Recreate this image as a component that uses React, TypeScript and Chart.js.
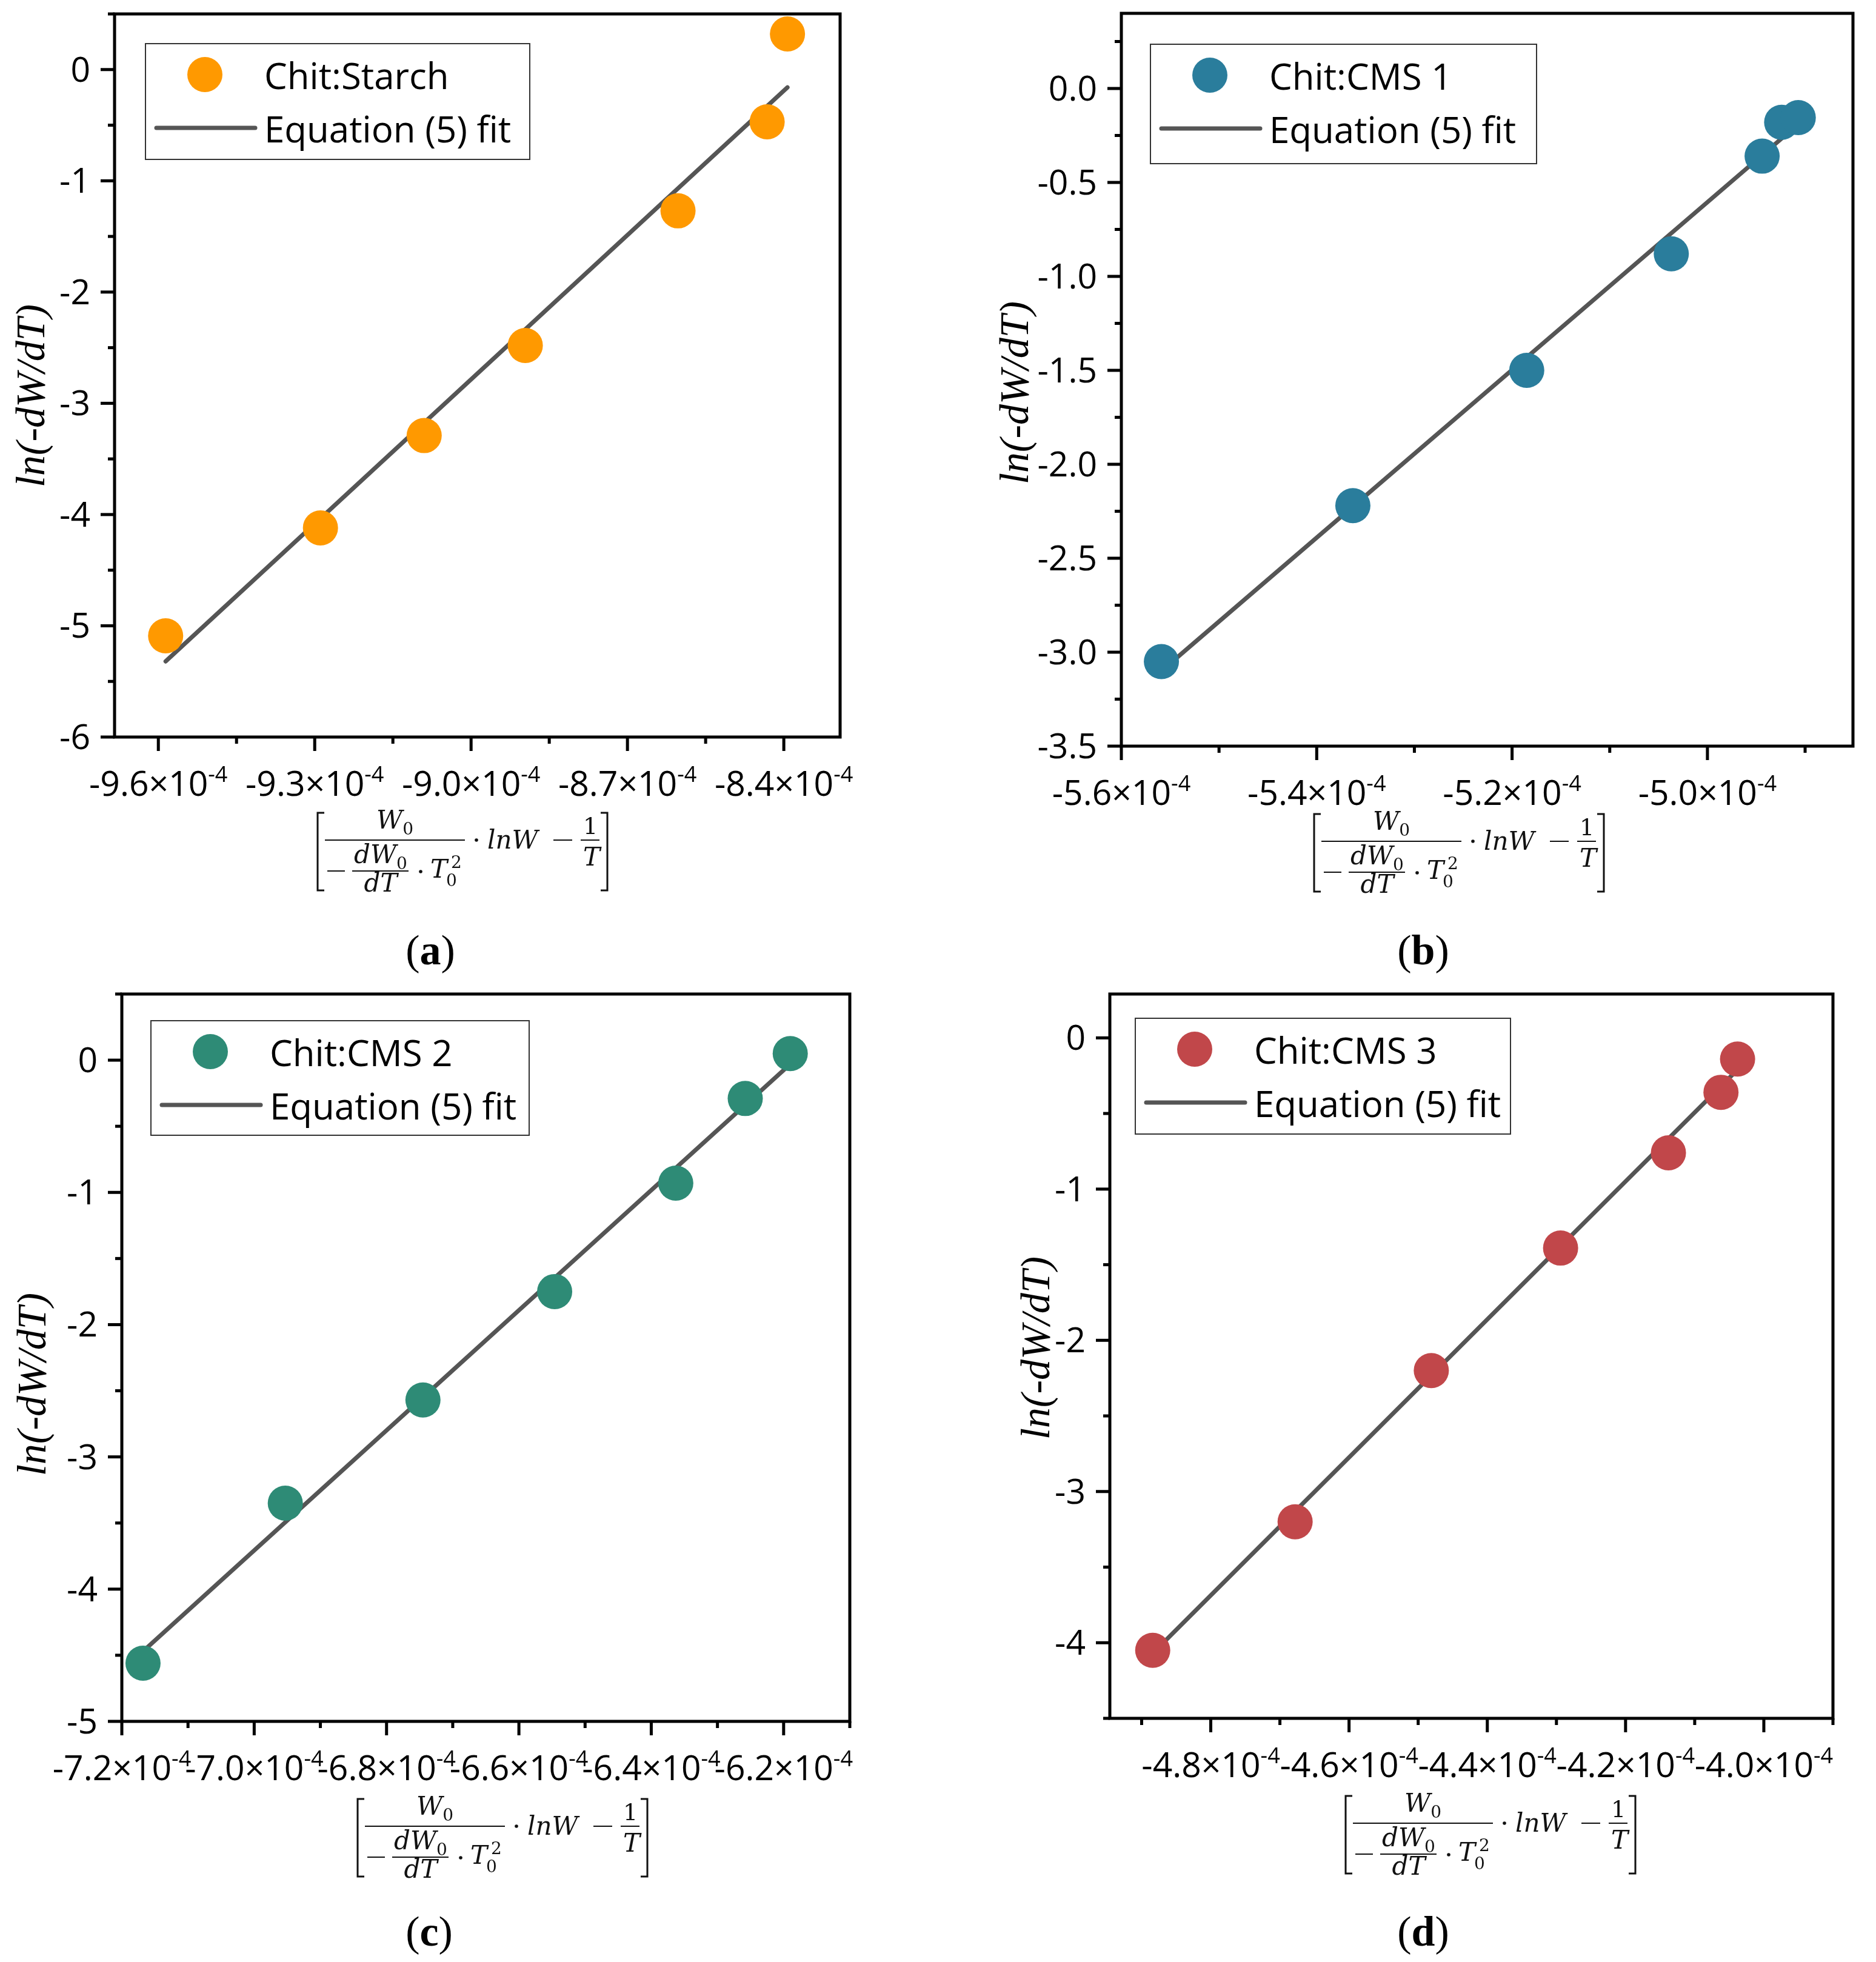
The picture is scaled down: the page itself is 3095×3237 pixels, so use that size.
import React, { useEffect, useRef } from 'react';
import { Chart, registerables } from 'chart.js';

Chart.register(...registerables);

// series (x in units of 1, shown as ×10^-4 on the axis)
const seriesNames = ['Chit:Starch', 'Chit:CMS 1', 'Chit:CMS 2', 'Chit:CMS 3'];
const fitName = 'Equation (5) fit';
const panelLetters = ['a', 'b', 'c', 'd'];

const starchX = [-9.586e-4, -9.289e-4, -9.09e-4, -8.896e-4, -8.603e-4, -8.432e-4, -8.393e-4];
const starchY = [-5.09, -4.12, -3.29, -2.48, -1.27, -0.47, 0.32];
const starchFitX = [-9.586e-4, -8.393e-4];
const starchFitY = [-5.32, -0.16];

const cms1X = [-5.559e-4, -5.363e-4, -5.185e-4, -5.037e-4, -4.944e-4, -4.924e-4, -4.907e-4];
const cms1Y = [-3.05, -2.22, -1.5, -0.88, -0.36, -0.18, -0.155];
const cms1FitX = [-5.559e-4, -4.907e-4];
const cms1FitY = [-3.1, -0.19];

const cms2X = [-7.168e-4, -6.953e-4, -6.745e-4, -6.546e-4, -6.363e-4, -6.258e-4, -6.19e-4];
const cms2Y = [-4.56, -3.35, -2.57, -1.75, -0.93, -0.29, 0.05];
const cms2FitX = [-7.168e-4, -6.19e-4];
const cms2FitY = [-4.47, -0.03];

const cms3X = [-4.884e-4, -4.678e-4, -4.481e-4, -4.294e-4, -4.138e-4, -4.062e-4, -4.038e-4];
const cms3Y = [-4.05, -3.2, -2.2, -1.39, -0.76, -0.36, -0.14];
const cms3FitX = [-4.884e-4, -4.038e-4];
const cms3FitY = [-4.07, -0.21];

// tick values
const aXTicks = [-9.6e-4, -9.3e-4, -9.0e-4, -8.7e-4, -8.4e-4];
const aYTicks = [0, -1, -2, -3, -4, -5, -6];
const bXTicks = [-5.6e-4, -5.4e-4, -5.2e-4, -5.0e-4];
const bYTicks = [0, -0.5, -1, -1.5, -2, -2.5, -3, -3.5];
const cXTicks = [-7.2e-4, -7.0e-4, -6.8e-4, -6.6e-4, -6.4e-4, -6.2e-4];
const cYTicks = [0, -1, -2, -3, -4, -5];
const dXTicks = [-4.8e-4, -4.6e-4, -4.4e-4, -4.2e-4, -4.0e-4];
const dYTicks = [0, -1, -2, -3, -4];

const TICK_FONT = '57px "Open Sans"';
const EXP_FONT = '36px "Open Sans"';
const LEGEND_FONT = '60px "Open Sans"';
const TITLE_FONT = 'italic 68px "Liberation Serif"';
const MATH_IT = 'italic 42px "DejaVu Serif"';
const MATH_SUB = '28px "DejaVu Serif"';
const MATH_NUM = '38px "DejaVu Serif"';
const FIT_COLOR = '#555555';

interface Box { x: number; y: number; w: number; h: number }

interface PanelSpec {
  name: string;
  letter: string;
  color: string;
  xs: number[];
  ys: number[];
  fitXs: number[];
  fitYs: number[];
  xMin: number;
  xMax: number;
  yMin: number;
  yMax: number;
  xTicks: number[];
  yTicks: number[];
  xMinor: number;
  yMinor: number;
  yDecimals: number;
  canvas: Box;
  plot: { l: number; t: number; r: number; b: number };
  titleAt: [number, number];
  legend: Box;
  formulaAt: [number, number];
  letterAt: [number, number];
}

const panels: PanelSpec[] = [
  {
    name: seriesNames[0], letter: panelLetters[0], color: '#FF9900',
    xs: starchX, ys: starchY, fitXs: starchFitX, fitYs: starchFitY,
    xMin: -9.684e-4, xMax: -8.292e-4, yMin: -6, yMax: 0.5,
    xTicks: aXTicks, yTicks: aYTicks, xMinor: 0.15e-4, yMinor: 0.5, yDecimals: 0,
    canvas: { x: 0, y: 0, w: 1547, h: 1618 },
    plot: { l: 189, t: 23, r: 1386, b: 1216 },
    titleAt: [55, 653],
    legend: { x: 240, y: 72, w: 634, h: 191 },
    formulaAt: [522, 1340],
    letterAt: [710, 1568],
  },
  {
    name: seriesNames[1], letter: panelLetters[1], color: '#2A7D9C',
    xs: cms1X, ys: cms1Y, fitXs: cms1FitX, fitYs: cms1FitY,
    xMin: -5.6e-4, xMax: -4.851e-4, yMin: -3.5, yMax: 0.4,
    xTicks: bXTicks, yTicks: bYTicks, xMinor: 0.1e-4, yMinor: 0.25, yDecimals: 1,
    canvas: { x: 1547, y: 0, w: 1548, h: 1618 },
    plot: { l: 1850, t: 22, r: 3057, b: 1231 },
    titleAt: [1678, 648],
    legend: { x: 1898, y: 73, w: 637, h: 197 },
    formulaAt: [2166, 1342],
    letterAt: [2348, 1568],
  },
  {
    name: seriesNames[2], letter: panelLetters[2], color: '#2E8B76',
    xs: cms2X, ys: cms2Y, fitXs: cms2FitX, fitYs: cms2FitY,
    xMin: -7.2e-4, xMax: -6.1e-4, yMin: -5, yMax: 0.5,
    xTicks: cXTicks, yTicks: cYTicks, xMinor: 0.1e-4, yMinor: 0.5, yDecimals: 0,
    canvas: { x: 0, y: 1618, w: 1547, h: 1619 },
    plot: { l: 201, t: 1640, r: 1402, b: 2840 },
    titleAt: [57, 2284],
    legend: { x: 249, y: 1684, w: 624, h: 189 },
    formulaAt: [588, 2967],
    letterAt: [708, 3187],
  },
  {
    name: seriesNames[3], letter: panelLetters[3], color: '#C1474A',
    xs: cms3X, ys: cms3Y, fitXs: cms3FitX, fitYs: cms3FitY,
    xMin: -4.946e-4, xMax: -3.9e-4, yMin: -4.5, yMax: 0.29,
    xTicks: dXTicks, yTicks: dYTicks, xMinor: 0.1e-4, yMinor: 0.5, yDecimals: 0,
    canvas: { x: 1547, y: 1618, w: 1548, h: 1619 },
    plot: { l: 1831, t: 1640, r: 3024, b: 2835 },
    titleAt: [1713, 2224],
    legend: { x: 1873, y: 1680, w: 619, h: 191 },
    formulaAt: [2218, 2962],
    letterAt: [2348, 3187],
  },
];

function minorTicks(majors: number[], step: number, min: number, max: number) {
  const out: number[] = [];
  const eps = step * 1e-3;
  for (let n = -60; n <= 60; n++) {
    const v = majors[0] + n * step;
    if (v < min - eps || v > max + eps) continue;
    if (majors.some(m => Math.abs(m - v) < eps)) continue;
    out.push(v);
  }
  return out;
}

function drawFormula(ctx: CanvasRenderingContext2D, x0: number, y0: number) {
  ctx.save();
  ctx.translate(x0, y0);
  ctx.fillStyle = '#111';
  ctx.strokeStyle = '#111';
  ctx.textBaseline = 'alphabetic';
  const line = (a: number, b: number, y: number, w = 2) => {
    ctx.lineWidth = w;
    ctx.beginPath();
    ctx.moveTo(a, y);
    ctx.lineTo(b, y);
    ctx.stroke();
  };
  const dot = (x: number, y: number) => {
    ctx.beginPath();
    ctx.arc(x, y, 2.8, 0, Math.PI * 2);
    ctx.fill();
  };
  // text + subscript, centered on cx
  const withSub = (main: string, sub: string, cx: number, base: number) => {
    ctx.font = MATH_IT;
    const wm = ctx.measureText(main).width;
    ctx.font = MATH_SUB;
    const ws = ctx.measureText(sub).width;
    const left = cx - (wm + ws) / 2;
    ctx.font = MATH_IT;
    ctx.fillText(main, left, base);
    ctx.font = MATH_SUB;
    ctx.fillText(sub, left + wm, base + 10);
  };

  // brackets
  ctx.lineWidth = 3;
  ctx.beginPath();
  ctx.moveTo(13, 1); ctx.lineTo(2, 1); ctx.lineTo(2, 129); ctx.lineTo(13, 129);
  ctx.stroke();
  ctx.beginPath();
  ctx.moveTo(469, 1); ctx.lineTo(480, 1); ctx.lineTo(480, 129); ctx.lineTo(469, 129);
  ctx.stroke();

  // main fraction
  line(14, 245, 46);
  withSub('W', '0', 129.5, 27);
  line(18, 47, 97);
  line(59, 152, 97);
  withSub('dW', '0', 106, 84);
  ctx.font = MATH_IT;
  ctx.textAlign = 'center';
  ctx.fillText('dT', 106, 131);
  ctx.textAlign = 'left';
  dot(172, 98);
  ctx.fillText('T', 188, 108);
  ctx.font = MATH_SUB;
  ctx.fillText('2', 222, 92);
  ctx.fillText('0', 214, 122);

  dot(264, 46);
  ctx.font = MATH_IT;
  ctx.fillText('lnW', 282, 60);
  line(391, 422, 46);

  // 1/T
  ctx.textAlign = 'center';
  ctx.font = MATH_NUM;
  ctx.fillText('1', 452, 36);
  line(436, 467, 46);
  ctx.font = MATH_IT;
  ctx.fillText('T', 454, 88);
  ctx.restore();
}

function makeDecor(p: PanelSpec) {
  return {
    id: 'originDecor',
    afterDraw(chart: Chart) {
      const ctx = chart.ctx;
      const { left, right, top, bottom } = chart.chartArea;
      const xs = chart.scales.x;
      const ys = chart.scales.y;
      const ox = p.canvas.x;
      const oy = p.canvas.y;

      ctx.save();
      ctx.strokeStyle = '#000';
      ctx.fillStyle = '#000';
      ctx.lineWidth = 5;
      ctx.lineJoin = 'miter';
      ctx.strokeRect(left, top, right - left, bottom - top);

      const seg = (x1: number, y1: number, x2: number, y2: number) => {
        ctx.beginPath();
        ctx.moveTo(x1, y1);
        ctx.lineTo(x2, y2);
        ctx.stroke();
      };
      p.xTicks.forEach(v => {
        const x = xs.getPixelForValue(v);
        seg(x, bottom, x, bottom + 23);
      });
      minorTicks(p.xTicks, p.xMinor, p.xMin, p.xMax).forEach(v => {
        const x = xs.getPixelForValue(v);
        seg(x, bottom, x, bottom + 11);
      });
      p.yTicks.forEach(v => {
        const y = ys.getPixelForValue(v);
        seg(left, y, left - 23, y);
      });
      minorTicks(p.yTicks, p.yMinor, p.yMin, p.yMax).forEach(v => {
        const y = ys.getPixelForValue(v);
        seg(left, y, left - 11, y);
      });

      // x tick labels: mantissa ×10^-4
      ctx.textBaseline = 'alphabetic';
      ctx.textAlign = 'left';
      p.xTicks.forEach(v => {
        const main = (v * 1e4).toFixed(1) + '\u00D710';
        ctx.font = TICK_FONT;
        const wm = ctx.measureText(main).width;
        ctx.font = EXP_FONT;
        const we = ctx.measureText('-4').width;
        const x0 = xs.getPixelForValue(v) - (wm + we) / 2;
        ctx.font = TICK_FONT;
        ctx.fillText(main, x0, bottom + 97);
        ctx.font = EXP_FONT;
        ctx.fillText('-4', x0 + wm, bottom + 74);
      });

      // y tick labels
      ctx.font = TICK_FONT;
      ctx.textAlign = 'right';
      p.yTicks.forEach(v => {
        ctx.fillText(v.toFixed(p.yDecimals), left - 40, ys.getPixelForValue(v) + 20);
      });

      // y title
      ctx.save();
      ctx.translate(p.titleAt[0] - ox, p.titleAt[1] - oy);
      ctx.rotate(-Math.PI / 2);
      ctx.font = TITLE_FONT;
      ctx.textAlign = 'center';
      ctx.textBaseline = 'middle';
      ctx.fillText('ln(-dW/dT)', 0, 0);
      ctx.restore();

      // legend
      const lx = p.legend.x - ox;
      const ly = p.legend.y - oy;
      ctx.fillStyle = '#fff';
      ctx.fillRect(lx, ly, p.legend.w, p.legend.h);
      ctx.strokeStyle = '#333';
      ctx.lineWidth = 2;
      ctx.strokeRect(lx, ly, p.legend.w, p.legend.h);
      ctx.fillStyle = p.color;
      ctx.beginPath();
      ctx.arc(lx + 98, ly + 51, 29, 0, Math.PI * 2);
      ctx.fill();
      ctx.strokeStyle = FIT_COLOR;
      ctx.lineWidth = 7;
      ctx.lineCap = 'round';
      seg(lx + 18, ly + 139, lx + 181, ly + 139);
      ctx.lineCap = 'butt';
      ctx.fillStyle = '#000';
      ctx.font = LEGEND_FONT;
      ctx.textAlign = 'left';
      ctx.textBaseline = 'alphabetic';
      ctx.fillText(p.name, lx + 196, ly + 75);
      ctx.fillText(fitName, lx + 196, ly + 163);

      drawFormula(ctx, p.formulaAt[0] - ox, p.formulaAt[1] - oy);
      ctx.restore();
    },
  };
}

const Panel: React.FC<{ p: PanelSpec }> = ({ p }) => {
  const canvasRef = useRef<HTMLCanvasElement | null>(null);

  useEffect(() => {
    if (!canvasRef.current) return;
    const ctx = canvasRef.current.getContext('2d');
    if (!ctx) return;

    const c = p.canvas;
    const chart = new Chart(ctx, {
      type: 'scatter',
      data: {
        datasets: [
          {
            label: p.name,
            data: p.xs.map((x, i) => ({ x, y: p.ys[i] })),
            backgroundColor: p.color,
            borderWidth: 0,
            pointRadius: 29,
            pointHoverRadius: 29,
            clip: false,
          },
          {
            label: fitName,
            data: p.fitXs.map((x, i) => ({ x, y: p.fitYs[i] })),
            showLine: true,
            borderColor: FIT_COLOR,
            borderWidth: 7,
            borderCapStyle: 'round',
            pointRadius: 0,
            pointHoverRadius: 0,
            clip: false,
          },
        ],
      },
      options: {
        animation: false,
        responsive: false,
        devicePixelRatio: 1,
        events: [],
        layout: {
          autoPadding: false,
          padding: {
            left: p.plot.l - c.x,
            top: p.plot.t - c.y,
            right: c.x + c.w - p.plot.r,
            bottom: c.y + c.h - p.plot.b,
          },
        },
        plugins: {
          legend: { display: false },
          tooltip: { enabled: false },
        },
        scales: {
          x: { type: 'linear', display: false, min: p.xMin, max: p.xMax },
          y: { type: 'linear', display: false, min: p.yMin, max: p.yMax },
        },
      },
      plugins: [makeDecor(p)],
    });

    // redraw once the local fonts are surely in use
    Promise.all([
      document.fonts.load(TICK_FONT),
      document.fonts.load(TITLE_FONT),
      document.fonts.load(MATH_IT),
      document.fonts.load(MATH_SUB),
    ]).then(() => chart.draw()).catch(() => undefined);

    return () => {
      chart.destroy();
    };
  }, [p]);

  return (
    <canvas
      ref={canvasRef}
      width={p.canvas.w}
      height={p.canvas.h}
      style={{
        position: 'absolute',
        left: p.canvas.x,
        top: p.canvas.y,
        width: p.canvas.w,
        height: p.canvas.h,
      }}
    />
  );
};

const App: React.FC = () => {
  return (
    <div style={{ position: 'absolute', left: 0, top: 0, width: 3095, height: 3237, background: '#fff', overflow: 'hidden' }}>
      {panels.map(p => (
        <React.Fragment key={p.letter}>
          <Panel p={p} />
          <div
            style={{
              position: 'absolute',
              left: p.letterAt[0],
              top: p.letterAt[1],
              transform: 'translate(-50%, -50%)',
              fontFamily: '"Liberation Serif", serif',
              fontSize: 70,
              lineHeight: 1,
              color: '#000',
              whiteSpace: 'nowrap',
            }}
          >
            (<b>{p.letter}</b>)
          </div>
        </React.Fragment>
      ))}
    </div>
  );
};

export default App;
